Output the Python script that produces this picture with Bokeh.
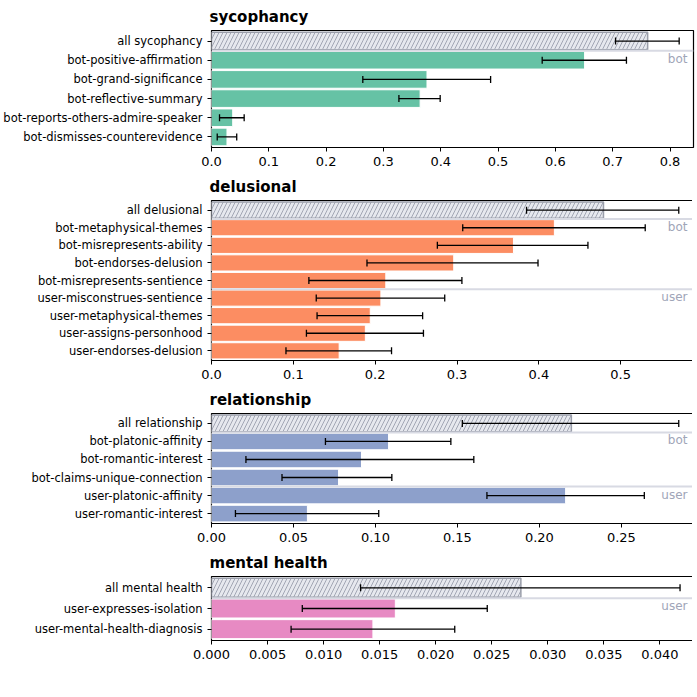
from bokeh.plotting import figure
from bokeh.models import (Range1d, FixedTicker, PrintfTickFormatter, Span, Label,
                          Whisker, ColumnDataSource, TeeHead)
from bokeh.layouts import column
from bokeh.embed import file_html
from bokeh.resources import INLINE

syc_labels = ["all sycophancy", "bot-positive-affirmation", "bot-grand-significance",
              "bot-reflective-summary", "bot-reports-others-admire-speaker",
              "bot-dismisses-counterevidence"]
syc_vals = [0.761, 0.651, 0.376, 0.364, 0.037, 0.027]
syc_lo = [0.705, 0.577, 0.264, 0.327, 0.014, 0.010]
syc_hi = [0.816, 0.724, 0.487, 0.399, 0.057, 0.044]

del_labels = ["all delusional", "bot-metaphysical-themes", "bot-misrepresents-ability",
              "bot-endorses-delusion", "bot-misrepresents-sentience",
              "user-misconstrues-sentience", "user-metaphysical-themes",
              "user-assigns-personhood", "user-endorses-delusion"]
del_vals = [0.479, 0.419, 0.369, 0.296, 0.213, 0.207, 0.194, 0.188, 0.156]
del_lo = [0.385, 0.307, 0.276, 0.190, 0.119, 0.128, 0.129, 0.116, 0.091]
del_hi = [0.571, 0.530, 0.460, 0.399, 0.306, 0.285, 0.258, 0.259, 0.220]

rel_labels = ["all relationship", "bot-platonic-affinity", "bot-romantic-interest",
              "bot-claims-unique-connection", "user-platonic-affinity",
              "user-romantic-interest"]
rel_vals = [0.2195, 0.108, 0.0915, 0.0775, 0.216, 0.0585]
rel_lo = [0.153, 0.0695, 0.021, 0.043, 0.168, 0.0146]
rel_hi = [0.285, 0.146, 0.160, 0.110, 0.264, 0.102]

mh_labels = ["all mental health", "user-expresses-isolation", "user-mental-health-diagnosis"]
mh_vals = [0.0276, 0.0164, 0.0144]
mh_lo = [0.0133, 0.0081, 0.0071]
mh_hi = [0.0418, 0.0246, 0.0217]

panels = [
    ("sycophancy", syc_labels, syc_vals, syc_lo, syc_hi, "#66c2a5", 0.841,
     [i / 10 for i in range(9)], "%.1f", 117, [(0.5, "bot")]),
    ("delusional", del_labels, del_vals, del_lo, del_hi, "#fc8d62", 0.589,
     [i / 10 for i in range(6)], "%.1f", 160, [(0.5, "bot"), (4.5, "user")]),
    ("relationship", rel_labels, rel_vals, rel_lo, rel_hi, "#8da0cb", 0.294,
     [i * 0.05 for i in range(6)], "%.2f", 110, [(0.5, "bot"), (3.5, "user")]),
    ("mental health", mh_labels, mh_vals, mh_lo, mh_hi, "#e78ac3", 0.043,
     [i * 0.005 for i in range(9)], "%.3f", 64, [(0.5, "user")]),
]

figs = []
for k, (title, labels, vals, lo, hi, color, xmax, ticks, fmt, fh, seps) in enumerate(panels):
    n = len(labels)
    ys = list(range(n))
    p = figure(frame_width=482, frame_height=fh, output_backend="svg",
               toolbar_location=None, x_range=Range1d(0, xmax),
               y_range=Range1d(n - 0.45, -0.55), min_border_left=206,
               min_border_right=4, min_border_top=16 if k == 0 else 2,
               min_border_bottom=2)
    p.title.text = title
    p.title.text_font = "DejaVu Sans"
    p.title.text_font_size = "15px"
    p.title.text_font_style = "bold"
    p.title.text_color = "black"
    p.title.offset = -2
    p.outline_line_color = "black"
    p.outline_line_width = 1.2
    p.xgrid.visible = False
    p.ygrid.visible = False
    p.xaxis.ticker = FixedTicker(ticks=ticks)
    p.xaxis.formatter = PrintfTickFormatter(format=fmt)
    p.yaxis.ticker = FixedTicker(ticks=ys)
    p.yaxis.major_label_overrides = {i: l for i, l in enumerate(labels)}
    for ax in (p.xaxis[0], p.yaxis[0]):
        ax.axis_line_color = None
        ax.minor_tick_line_color = None
        ax.major_tick_out = 4
        ax.major_tick_in = 0
        ax.major_label_text_font = "DejaVu Sans"
        ax.major_label_text_color = "black"
    p.xaxis.major_label_text_font_size = "13px"
    p.yaxis.major_label_text_font_size = "11.5px"

    p.hbar(y=ys[1:], right=vals[1:], left=0, height=0.92, fill_color=color,
           line_color="white", line_width=1)
    p.hbar(y=[0], right=[vals[0]], left=0, height=0.92, fill_color="#e6e8ee",
           hatch_pattern="/", hatch_color="#a2a6b4", hatch_scale=8,
           line_color="#9a9eaa", line_width=1.5)
    for yv, txt in seps:
        p.add_layout(Span(location=yv, dimension="width", line_color="#d8dae3",
                          line_width=2))
        p.add_layout(Label(x=xmax, y=yv, text=txt, text_align="right",
                           text_baseline="top", x_offset=-6, y_offset=-1,
                           text_color="#a0a5b8", text_font="DejaVu Sans",
                           text_font_size="12px"))
    src = ColumnDataSource(dict(y=ys, lo=lo, hi=hi))
    p.add_layout(Whisker(source=src, base="y", lower="lo", upper="hi",
                         dimension="width", line_color="black", line_width=1.3,
                         level="overlay",
                         upper_head=TeeHead(size=7, line_width=1.3),
                         lower_head=TeeHead(size=7, line_width=1.3)))
    figs.append(p)

layout = column(*figs, spacing=2)
open("out.html", "w").write(file_html(layout, INLINE))
